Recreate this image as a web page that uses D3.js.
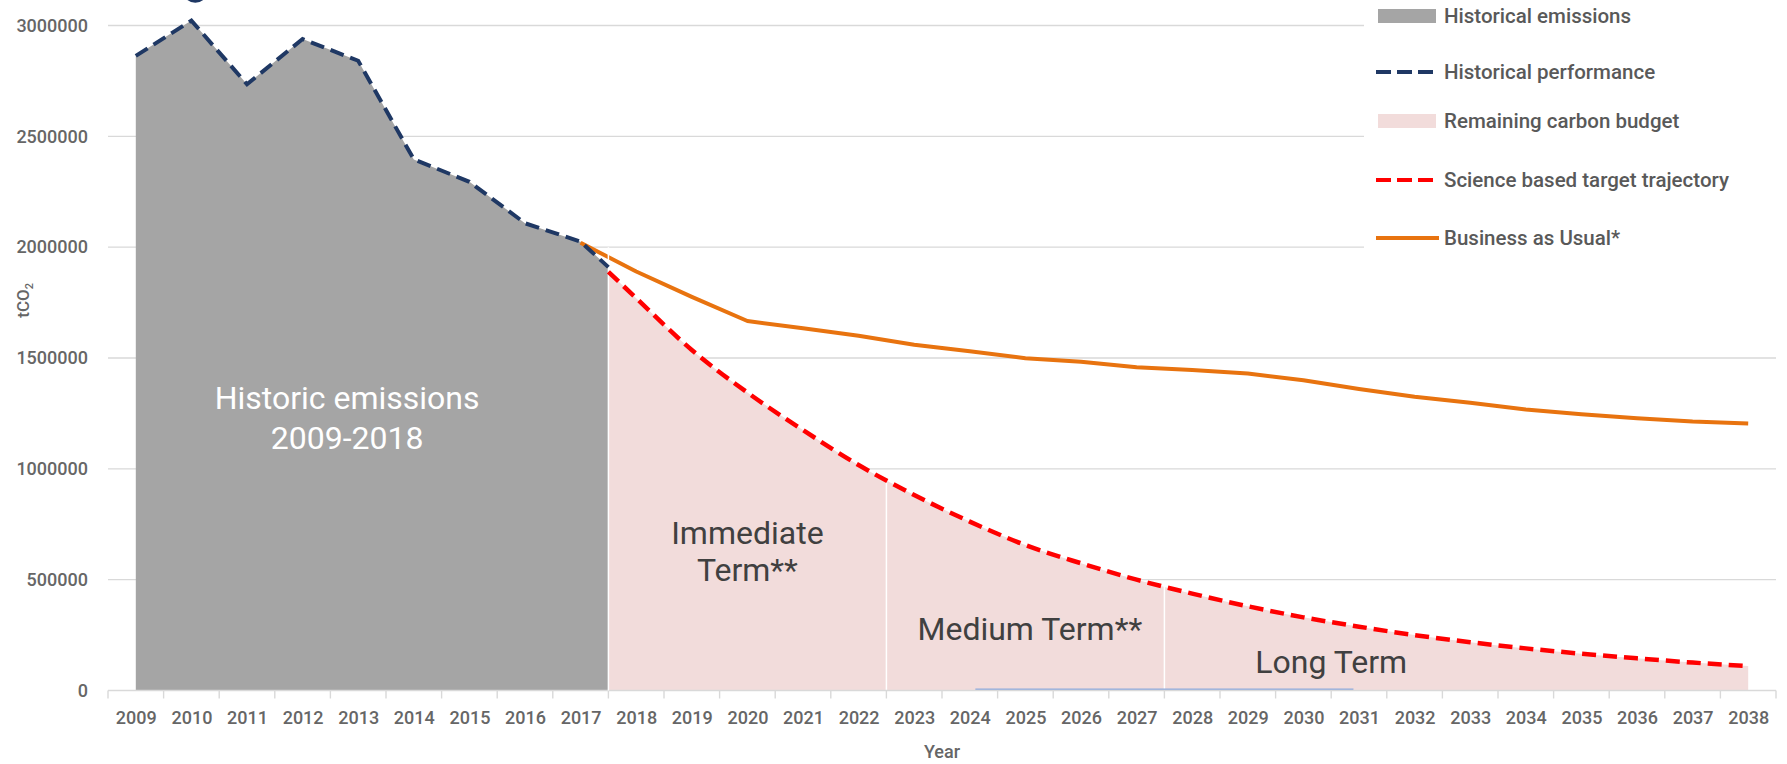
<!DOCTYPE html>
<html>
<head>
<meta charset="utf-8">
<script src="https://cdn.jsdelivr.net/npm/d3@7"></script>
<style>
  body { margin: 0; background: #fff; }
  svg { display: block; }
  text { font-family: Roboto, "Noto Sans", sans-serif; }
</style>
</head>
<body>
<script>
// ---- data (tCO2) ----
const yearLabels = [2009, 2010, 2011, 2012, 2013, 2014, 2015, 2016, 2017, 2018, 2019, 2020, 2021, 2022, 2023,
  2024, 2025, 2026, 2027, 2028, 2029, 2030, 2031, 2032, 2033, 2034, 2035, 2036, 2037, 2038];
const yTicks = [0, 500000, 1000000, 1500000, 2000000, 2500000, 3000000];

const histYears = [2009, 2010, 2011, 2012, 2013, 2014, 2015, 2016, 2017, 2017.5];
const histValues = [2863000, 3022000, 2735000, 2939000, 2841000, 2396000, 2295000, 2108000, 2025000, 1910000];

const sbtYears = [2017.5, 2018, 2019, 2020, 2021, 2022, 2023, 2024, 2025, 2026, 2027, 2028,
  2029, 2030, 2031, 2032, 2033, 2034, 2035, 2036, 2037, 2038];
const sbtValues = [1889000, 1770000, 1536000, 1344000, 1175000, 1017000, 882000, 762000, 656000, 574000, 500000, 437000,
  380000, 330000, 288000, 250000, 218000, 190000, 166000, 145000, 126000, 110000];

const bauYears = [2017, 2018, 2019, 2020, 2021, 2022, 2023, 2024, 2025, 2026, 2027, 2028,
  2029, 2030, 2031, 2032, 2033, 2034, 2035, 2036, 2037, 2038];
const bauValues = [2020000, 1890000, 1776000, 1667000, 1634000, 1600000, 1560000, 1530000, 1499000, 1483000, 1458000, 1446000,
  1430000, 1400000, 1360000, 1325000, 1298000, 1268000, 1246000, 1228000, 1213000, 1205000];

const termBreaks = [2017.5, 2022.5, 2027.5];
const termBreakTops = [2000000, 950000, 468000];
const baselineSegment = [2024.1, 2030.9];

const annotations = [
  { text: 'Historic emissions', x: 2012.8, v: 1270000, color: '#ffffff' },
  { text: '2009-2018', x: 2012.8, v: 1090000, color: '#ffffff' },
  { text: 'Immediate', x: 2020.0, v: 662000, color: '#404040' },
  { text: 'Term**', x: 2020.0, v: 492000, color: '#404040' },
  { text: 'Medium Term**', x: 2025.08, v: 226000, color: '#404040' },
  { text: 'Long Term', x: 2030.5, v: 80000, color: '#404040' }
];

const legendItems = [
  { name: 'Historical emissions', type: 'rect', color: '#a5a5a5' },
  { name: 'Historical performance', type: 'dash', color: '#1f3864' },
  { name: 'Remaining carbon budget', type: 'rect', color: '#f2dcdb' },
  { name: 'Science based target trajectory', type: 'dash', color: '#ff0000' },
  { name: 'Business as Usual*', type: 'line', color: '#e8730f' }
];
const legendY = [16, 72, 121, 180, 238];

// ---- chart ----
const width = 1787, height = 764;
const svg = d3.select('body').append('svg')
  .attr('width', width)
  .attr('height', height);

const x = d3.scaleLinear().domain([2008.5, 2038.5]).range([108, 1776]);
const y = d3.scaleLinear().domain([0, 3000000]).range([690.5, 25.5]);

// gridlines
svg.append('g')
  .selectAll('line')
  .data(yTicks.filter(d => d > 0))
  .join('line')
  .attr('x1', x(2008.5))
  .attr('x2', x(2038.5))
  .attr('y1', d => y(d))
  .attr('y2', d => y(d))
  .attr('stroke', '#d9d9d9')
  .attr('stroke-width', 1.4);

// historic area
const hist = histYears.map((d, i) => [d, histValues[i]]);
svg.append('path')
  .datum(hist)
  .attr('fill', '#a5a5a5')
  .attr('d', d3.area().x(d => x(d[0])).y0(y(0)).y1(d => y(d[1])));

// remaining budget area
const sbt = sbtYears.map((d, i) => [d, sbtValues[i]]);
svg.append('path')
  .datum(sbt)
  .attr('fill', '#f2dcdb')
  .attr('d', d3.area().curve(d3.curveMonotoneX).x(d => x(d[0])).y0(y(0)).y1(d => y(d[1])));

// term separators (lower two)
svg.append('g')
  .selectAll('line')
  .data(termBreaks.slice(1))
  .join('line')
  .attr('x1', d => x(d))
  .attr('x2', d => x(d))
  .attr('y1', y(0))
  .attr('y2', (d, i) => y(termBreakTops[i + 1]))
  .attr('stroke', '#fff')
  .attr('stroke-width', 1.5);

// faint line on the baseline
svg.append('line')
  .attr('x1', x(baselineSegment[0]))
  .attr('x2', x(baselineSegment[1]))
  .attr('y1', y(0) - 1)
  .attr('y2', y(0) - 1)
  .attr('stroke', '#8faadc')
  .attr('stroke-width', 2);

// x axis: line + ticks at half years
const xAxisG = svg.append('g').attr('transform', `translate(0,${y(0)})`);
xAxisG.append('line')
  .attr('x1', x(2008.5)).attr('x2', x(2038.5))
  .attr('stroke', '#d9d9d9').attr('stroke-width', 1.4);
xAxisG.selectAll('.tick-mark')
  .data(yearLabels.map(d => d - 0.5).concat([2038.5]))
  .join('line')
  .attr('class', 'tick-mark')
  .attr('x1', d => x(d)).attr('x2', d => x(d))
  .attr('y1', 0).attr('y2', 8)
  .attr('stroke', '#d9d9d9').attr('stroke-width', 1.4);

const xAxis = d3.axisBottom(x)
  .tickValues(yearLabels)
  .tickFormat(d3.format('d'))
  .tickSize(0)
  .tickPadding(21);
xAxisG.append('g').call(xAxis)
  .call(g => g.select('.domain').remove())
  .selectAll('text')
  .attr('font-family', 'Roboto, sans-serif')
  .attr('font-size', 18)
  .attr('font-weight', 500)
  .attr('fill', '#666');

// y axis labels
const yAxis = d3.axisLeft(y)
  .tickValues(yTicks)
  .tickFormat(d3.format('d'))
  .tickSize(0)
  .tickPadding(20);
svg.append('g')
  .attr('transform', `translate(${x(2008.5)},0)`)
  .call(yAxis)
  .call(g => g.select('.domain').remove())
  .selectAll('text')
  .attr('font-family', 'Roboto, sans-serif')
  .attr('font-size', 18)
  .attr('font-weight', 500)
  .attr('fill', '#666');

// axis titles
svg.append('text')
  .attr('x', x(2023.5))
  .attr('y', 758)
  .attr('text-anchor', 'middle')
  .attr('font-size', 18)
  .attr('font-weight', 500)
  .attr('fill', '#666')
  .text('Year');

const yTitle = svg.append('text')
  .attr('transform', `translate(29,${y(1760000)}) rotate(-90)`)
  .attr('text-anchor', 'middle')
  .attr('font-size', 17)
  .attr('font-weight', 500)
  .attr('fill', '#666');
yTitle.append('tspan').text('tCO');
yTitle.append('tspan').attr('font-size', 11).attr('dy', 4).text('2');

// business as usual
const bau = bauYears.map((d, i) => [d, bauValues[i]]);
svg.append('path')
  .datum(bau)
  .attr('fill', 'none')
  .attr('stroke', '#e8730f')
  .attr('stroke-width', 4)
  .attr('stroke-linejoin', 'round')
  .attr('d', d3.line().x(d => x(d[0])).y(d => y(d[1])));

// separator between history and budget (cuts the orange line)
svg.append('line')
  .attr('x1', x(termBreaks[0])).attr('x2', x(termBreaks[0]))
  .attr('y1', y(0)).attr('y2', y(termBreakTops[0]))
  .attr('stroke', '#fff')
  .attr('stroke-width', 1.5);

// historical performance
svg.append('path')
  .datum(hist)
  .attr('fill', 'none')
  .attr('stroke', '#1f3864')
  .attr('stroke-width', 4)
  .attr('stroke-dasharray', '14,7')
  .attr('d', d3.line().x(d => x(d[0])).y(d => y(d[1])));

// science based target
svg.append('path')
  .datum(sbt)
  .attr('fill', 'none')
  .attr('stroke', '#ff0000')
  .attr('stroke-width', 4.5)
  .attr('stroke-dasharray', '14,7')
  .attr('d', d3.line().curve(d3.curveMonotoneX).x(d => x(d[0])).y(d => y(d[1])));

// annotations
svg.append('g')
  .selectAll('text')
  .data(annotations)
  .join('text')
  .attr('x', d => x(d.x))
  .attr('y', d => y(d.v))
  .attr('text-anchor', 'middle')
  .attr('font-size', 32)
  .attr('fill', d => d.color)
  .text(d => d.text);

// odd partial circle at the top edge
svg.append('circle')
  .attr('cx', x(2010.07))
  .attr('cy', -10)
  .attr('r', 11)
  .attr('fill', 'none')
  .attr('stroke', '#1f3864')
  .attr('stroke-width', 3.5);

// legend
const legend = svg.append('g');
legend.append('rect')
  .attr('x', 1364).attr('y', 0)
  .attr('width', width - 1364).attr('height', 262)
  .attr('fill', '#fff');

const item = legend.selectAll('.legend')
  .data(legendItems)
  .join('g')
  .attr('class', 'legend')
  .attr('transform', (d, i) => `translate(1376, ${legendY[i]})`);

item.filter(d => d.type === 'rect').append('rect')
  .attr('x', 2).attr('y', -7)
  .attr('width', 58).attr('height', 14)
  .attr('fill', d => d.color);

item.filter(d => d.type === 'dash').append('line')
  .attr('x1', 0).attr('x2', 58)
  .attr('stroke', d => d.color)
  .attr('stroke-width', 4)
  .attr('stroke-dasharray', '15,6');

item.filter(d => d.type === 'line').append('line')
  .attr('x1', 0).attr('x2', 63)
  .attr('stroke', d => d.color)
  .attr('stroke-width', 4);

item.append('text')
  .attr('x', 68)
  .attr('y', 7)
  .attr('font-size', 20.5)
  .attr('font-weight', 500)
  .attr('fill', '#595959')
  .text(d => d.name);
</script>
</body>
</html>
